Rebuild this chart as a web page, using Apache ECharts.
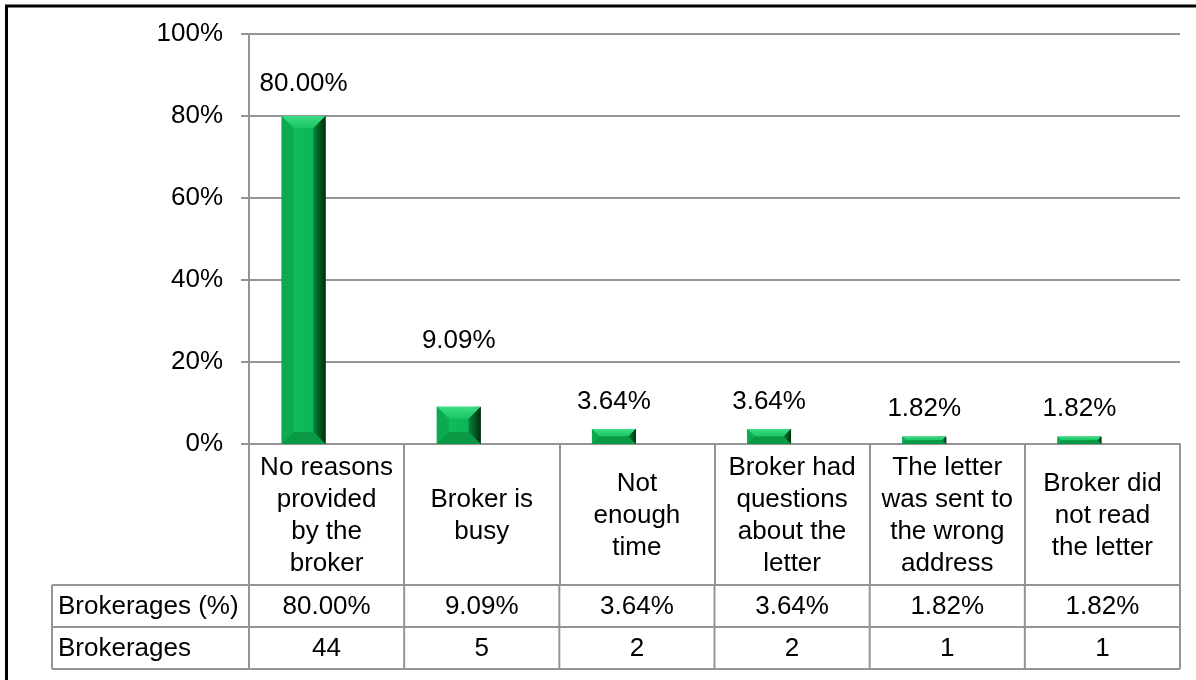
<!DOCTYPE html>
<html>
<head>
<meta charset="utf-8">
<script src="https://cdn.jsdelivr.net/npm/echarts@6/dist/echarts.min.js"></script>
<style>
  html, body { margin: 0; padding: 0; background: #ffffff; }
  #chart { width: 1196px; height: 680px; }
</style>
</head>
<body>
<div id="chart"></div>
<script>
// Reasons given, share of brokerages and brokerage counts
const categories = [
  'No reasons\nprovided\nby the\nbroker',
  'Broker is\nbusy',
  'Not\nenough\ntime',
  'Broker had\nquestions\nabout the\nletter',
  'The letter\nwas sent to\nthe wrong\naddress',
  'Broker did\nnot read\nthe letter'
];
const sharePct = [80.00, 9.09, 3.64, 3.64, 1.82, 1.82];
const brokerageCounts = [44, 5, 2, 2, 1, 1];
const rowLabels = ['Brokerages (%)', 'Brokerages'];
const yMin = 0, yMax = 100, yStep = 20;

// Layout / styling
const FONT = "'Liberation Sans', Arial, sans-serif";
const FS = 26;
const GRID = { left: 249, top: 34, width: 931, height: 410 };
const BAR_SHIFT = 23;            // bars sit a little left of the table columns
const LABEL_LIFT = [32, 66, 27, 27, 28, 28]; // value-label distance above bar tops
const HEADER_H = 141, ROW_H = 42, TABLE_LEFT = 52;
const LINE = '#949494';

const fmtPct = v => v.toFixed(2) + '%';

function renderBevelBar(params, api) {
  const i = api.value(0), v = api.value(1);
  const top = api.coord([i, v]);
  const base = api.coord([i, 0]);
  const bw = api.size([1, 0])[0] * 0.283;
  const x0 = top[0] - bw / 2, x1 = top[0] + bw / 2;
  const y0 = top[1], y1 = base[1];
  const h = y1 - y0;
  const b = Math.min(12, h / 2, bw / 2);
  const lg = (x, y, x2, y2, stops) => new echarts.graphic.LinearGradient(x, y, x2, y2, stops);
  return {
    type: 'group',
    children: [
      { type: 'rect', shape: { x: x0, y: y0, width: bw, height: h },
        style: { fill: lg(0, 0, 1, 0, [
          { offset: 0, color: '#0ba64c' }, { offset: 0.2, color: '#0ebd59' },
          { offset: 0.7, color: '#0bb656' }, { offset: 0.85, color: '#078c3d' },
          { offset: 1, color: '#013812' }]) } },
      { type: 'polygon', shape: { points: [[x0, y0], [x1, y0], [x1 - b, y0 + b], [x0 + b, y0 + b]] },
        style: { fill: lg(0, 0, 0, 1, [{ offset: 0, color: '#3ddd85' }, { offset: 1, color: '#18c462' }]) } },
      { type: 'polygon', shape: { points: [[x0, y0], [x0 + b, y0 + b], [x0 + b, y1 - b], [x0, y1]] },
        style: { fill: '#0cab4f' } },
      { type: 'polygon', shape: { points: [[x1, y0], [x1 - b, y0 + b], [x1 - b, y1 - b], [x1, y1]] },
        style: { fill: lg(0, 0, 1, 0, [{ offset: 0, color: '#06823a' }, { offset: 1, color: '#002e0e' }]) } },
      { type: 'polygon', shape: { points: [[x0, y1], [x1, y1], [x1 - b, y1 - b], [x0 + b, y1 - b]] },
        style: { fill: '#099844' } },
      { type: 'text', x: top[0], y: y0 - LABEL_LIFT[i],
        style: { text: fmtPct(v), fill: '#000', font: FS + 'px ' + FONT, align: 'center', verticalAlign: 'middle' } }
    ]
  };
}

const chart = echarts.init(document.getElementById('chart'), null, { renderer: 'canvas' });

const option = {
  backgroundColor: '#ffffff',
  animation: false,
  textStyle: { fontFamily: FONT, color: '#000' },
  grid: [
    Object.assign({}, GRID),
    Object.assign({}, GRID, { left: GRID.left - BAR_SHIFT })
  ],
  xAxis: [
    {
      type: 'category', gridIndex: 0, data: categories, boundaryGap: true,
      axisLine: { show: true, lineStyle: { color: LINE, width: 2 } },
      axisTick: { show: true, interval: 0, length: HEADER_H, lineStyle: { color: LINE, width: 2 } },
      axisLabel: { interval: 0, margin: 72, verticalAlign: 'middle', align: 'center',
        fontSize: FS, lineHeight: 32, color: '#000', fontFamily: FONT },
      splitLine: { show: false }
    },
    { type: 'category', gridIndex: 1, data: categories, show: false }
  ],
  yAxis: [
    {
      type: 'value', gridIndex: 0, min: yMin, max: yMax, interval: yStep,
      axisLine: { show: true, lineStyle: { color: LINE, width: 2 } },
      axisTick: { show: true, length: 8, lineStyle: { color: LINE, width: 2 } },
      axisLabel: { formatter: '{value}%', margin: 26, fontSize: FS, color: '#000', fontFamily: FONT },
      splitLine: { show: true, lineStyle: { color: LINE, width: 2 } }
    },
    { type: 'value', gridIndex: 1, min: yMin, max: yMax, show: false, splitLine: { show: false } }
  ],
  series: [
    {
      type: 'custom', xAxisIndex: 1, yAxisIndex: 1,
      data: sharePct.map((v, i) => [i, v]),
      renderItem: renderBevelBar,
      clip: false
    }
  ]
};

chart.setOption(option);

// Data table under the category axis, aligned to the axis bands
function drawTable() {
  const n = categories.length;
  const xAt = i => chart.convertToPixel({ xAxisIndex: 0 }, i);
  const band = xAt(1) - xAt(0);
  const colLeft = xAt(0) - band / 2;
  const colRight = xAt(n - 1) + band / 2;
  const yZero = chart.convertToPixel({ yAxisIndex: 0 }, 0);
  const rowTop = yZero + HEADER_H;
  const rows = [sharePct.map(fmtPct), brokerageCounts.map(String)];
  const els = [];
  const line = (x1, y1, x2, y2) => els.push({ type: 'line', silent: true,
    shape: { x1, y1, x2, y2 }, style: { stroke: LINE, lineWidth: 2 } });
  const tableBottom = rowTop + ROW_H * rows.length;
  for (let r = 0; r <= rows.length; r++) line(TABLE_LEFT, rowTop + r * ROW_H, colRight, rowTop + r * ROW_H);
  line(TABLE_LEFT, rowTop, TABLE_LEFT, tableBottom);
  for (let k = 0; k <= n; k++) line(colLeft + k * band, rowTop, colLeft + k * band, tableBottom);
  rows.forEach((cells, r) => {
    const cy = rowTop + r * ROW_H + ROW_H / 2 + 1;
    els.push({ type: 'text', x: TABLE_LEFT + 6, y: cy,
      style: { text: rowLabels[r], font: FS + 'px ' + FONT, fill: '#000', align: 'left', verticalAlign: 'middle' } });
    cells.forEach((t, i) => {
      els.push({ type: 'text', x: xAt(i), y: cy,
        style: { text: t, font: FS + 'px ' + FONT, fill: '#000', align: 'center', verticalAlign: 'middle' } });
    });
  });
  // chart frame
  els.push({ type: 'rect', silent: true, shape: { x: 6.5, y: 6, width: 1400, height: 900 },
    style: { fill: null, stroke: '#000', lineWidth: 3 } });
  chart.setOption({ graphic: { elements: els } });
}
drawTable();
</script>
</body>
</html>
